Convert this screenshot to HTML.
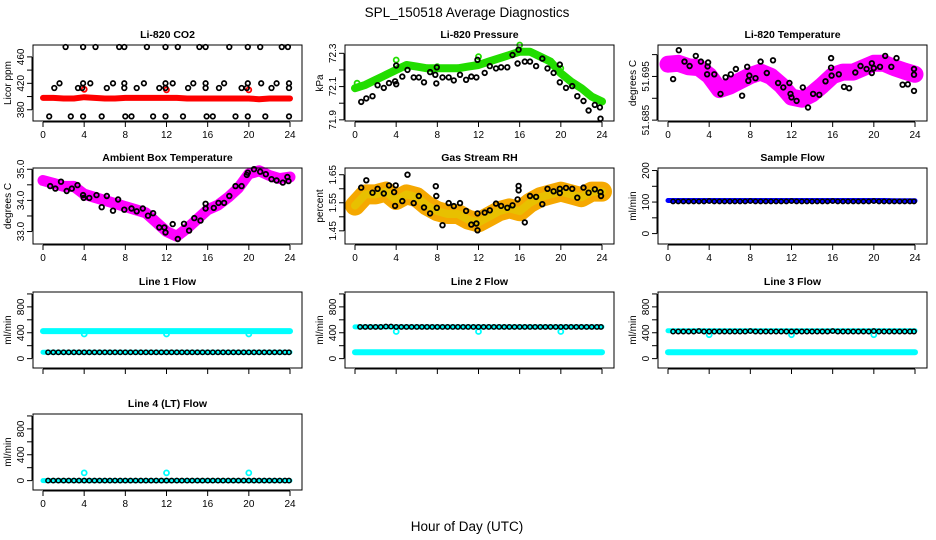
<!DOCTYPE html>
<html><head><meta charset="utf-8">
<style>
html,body{margin:0;padding:0;background:#fff;}
svg{display:block;font-family:"Liberation Sans",Arial,sans-serif;}
</style></head>
<body>
<svg id="chart" width="936" height="540" viewBox="0 0 936 540" xmlns="http://www.w3.org/2000/svg">
<rect width="936" height="540" fill="#fff"/>
<text x="467" y="17" font-size="13.5" text-anchor="middle">SPL_150518  Average Diagnostics</text>
<text x="467" y="531" font-size="13.5" text-anchor="middle">Hour of Day (UTC)</text>
</svg>
<script>
// ---------- data ----------
const hours = [0,1,2,3,4,5,6,7,8,9,10,11,12,13,14,15,16,17,18,19,20,21,22,23,24];
const xTicks = [0,4,8,12,16,20,24];
const halfHours = [0.5,1,1.5,2,2.5,3,3.5,4,4.5,5,5.5,6,6.5,7,7.5,8,8.5,9,9.5,10,10.5,11,11.5,12,12.5,13,13.5,14,14.5,15,15.5,16,16.5,17,17.5,18,18.5,19,19.5,20,20.5,21,21.5,22,22.5,23,23.5,23.9];

// CO2
const co2Band = [398,398,397,397,399,398,397,397,398,398,398,398,398,398,397,397,397,397,397,397,397,396,397,397,397];
const co2RedX = [4,12,20];
const co2RedY = [411,410,410];
const co2BlackX = [2.2,3.9,5.1,7.4,7.9,10.1,11.9,13.1,15.2,15.8,18.1,19.9,21.1,23.2,23.8, 1.1,3.4,3.8,6.2,7.9,9.1,11.3,11.9,14.1,15.8,17.1,19.3,19.8,22.2,23.9, 1.6,3.9,4.6,6.8,7.9,9.8,11.9,12.6,14.6,15.8,17.6,19.9,21.2,22.7,23.9, 0.6,2.7,3.9,5.7,8,8.6,10.7,11.9,13.6,15.9,16.5,18.7,19.9,21.6,23.9];
const co2BlackY = [475,475,475,475,475,475,475,475,475,475,475,475,475,475,475, 413,413,413,413,413,413,413,413,413,413,413,413,413,413,413, 420,420,420,420,420,420,420,420,420,420,420,420,420,420,420, 370,370,370,370,370,370,370,370,370,370,370,370,370,370,370];

// Pressure
const presBand = [72.09,72.11,72.14,72.17,72.2,72.23,72.22,72.21,72.21,72.21,72.21,72.22,72.23,72.25,72.27,72.29,72.31,72.31,72.28,72.25,72.18,72.13,72.09,72.04,72.01];
const presGreenX = [0.2,4,8,12,16,20];
const presGreenY = [72.12,72.26,72.22,72.28,72.35,72.21];
const presBlackX = [0.6,1.1,1.7,2.2,2.8,3.3,3.9,4,4,4.6,5.1,5.7,6.2,6.7,7.3,7.8,7.9,7.95,8.5,9.1,9.6,10.2,10.8,11.3,11.8,11.9,12.6,13.1,13.7,14.2,14.8,15.3,15.8,15.9,16.5,17,17.6,18.2,18.7,19.3,19.9,19.9,20.5,21.1,21.6,22.2,22.7,23.3,23.8,23.85];
const presBlackY = [72.008,72.029,72.042,72.108,72.092,72.121,72.132,72.114,72.227,72.16,72.2,72.155,72.155,72.126,72.187,72.171,72.119,72.216,72.155,72.155,72.137,72.171,72.141,72.16,72.155,72.261,72.182,72.223,72.209,72.216,72.216,72.29,72.239,72.322,72.25,72.25,72.223,72.268,72.209,72.182,72.232,72.126,72.092,72.103,72.042,72.013,71.956,71.99,71.975,71.907];

// Li-820 temperature
const tempBand = [51.6978,51.698,51.6972,51.697,51.6952,51.692,51.6928,51.694,51.6952,51.696,51.695,51.693,51.6903,51.6898,51.691,51.693,51.6952,51.696,51.696,51.697,51.698,51.698,51.697,51.6962,51.6955];
const tempBlackX = [0.5,1.05,1.6,2.1,2.7,3.2,3.8,3.9,3.85,4.5,5.1,5.6,6.1,6.6,7.2,7.7,7.8,7.9,8.5,9,9.6,10.2,10.7,11.2,11.8,11.9,12,12.5,13.1,13.6,14.1,14.7,15.3,15.85,15.85,15.9,16.6,17.1,17.6,18.2,18.7,19.3,19.8,19.8,20,20.6,21.1,21.7,22.2,22.8,23.3,23.9,23.9,23.9];
const tempBlackY = [51.6944,51.701,51.6984,51.6974,51.6997,51.6984,51.6955,51.6982,51.6973,51.6955,51.691,51.6948,51.6955,51.6967,51.6906,51.6972,51.694,51.6952,51.6946,51.6984,51.6958,51.6987,51.6935,51.6925,51.6935,51.691,51.6902,51.6894,51.6925,51.6879,51.691,51.6908,51.6939,51.6992,51.697,51.6952,51.6955,51.6926,51.6923,51.6959,51.6974,51.6967,51.698,51.6958,51.6969,51.6972,51.6997,51.6972,51.6992,51.6931,51.6932,51.6967,51.6917,51.6954];

// Ambient box temperature
const ambBand = [34.64,34.55,34.45,34.45,34.2,34.1,34.0,33.9,33.8,33.7,33.6,33.3,33.0,32.85,33.1,33.4,33.7,33.85,34.1,34.4,34.85,34.95,34.8,34.7,34.75];
const ambBlackX = [0.7,1.2,1.75,2.3,2.8,3.35,3.9,3.95,4.5,5.2,5.7,6.2,6.8,7.3,7.9,8.6,9.1,9.7,10.2,10.7,11.3,11.8,11.9,12.6,13.1,13.7,14.2,14.7,15.3,15.8,15.8,16.6,17.05,17.6,18.1,18.7,19.3,19.8,19.9,20.5,21.1,21.65,22.2,22.7,23.3,23.75,23.85];
const ambBlackY = [34.46,34.38,34.6,34.3,34.38,34.49,34.17,34.08,34.08,34.17,33.78,34.14,33.67,34.03,33.7,33.74,33.65,33.74,33.51,33.59,33.13,33.13,32.97,33.24,32.76,33.25,33.03,33.43,33.35,33.89,33.74,33.76,33.92,33.92,34.14,34.46,34.46,34.82,34.89,35.0,34.92,34.84,34.68,34.64,34.57,34.75,34.62];

// Gas stream RH
const rhBand = [1.54,1.58,1.58,1.59,1.56,1.58,1.57,1.54,1.52,1.51,1.51,1.49,1.48,1.50,1.52,1.53,1.52,1.55,1.57,1.58,1.59,1.58,1.57,1.59,1.59];
const rhBlackX = [0.6,1.1,1.7,2.2,2.8,3.3,3.8,3.95,3.9,4.6,5.1,5.7,6.2,6.7,7.3,7.85,7.9,7.95,8.5,9.1,9.6,10.2,10.8,11.3,11.8,11.9,11.9,12.6,13.1,13.7,14.2,14.8,15.3,15.8,15.9,15.9,16.5,17,17.6,18.2,18.7,19.3,19.9,19.9,20.5,21.1,21.6,22.2,22.7,23.3,23.85,23.9];
const rhBlackY = [1.604,1.63,1.586,1.6,1.583,1.612,1.588,1.612,1.539,1.556,1.65,1.549,1.574,1.533,1.512,1.609,1.574,1.532,1.47,1.549,1.538,1.549,1.521,1.472,1.476,1.512,1.452,1.515,1.523,1.547,1.539,1.532,1.541,1.562,1.61,1.594,1.48,1.574,1.571,1.545,1.6,1.591,1.6,1.585,1.603,1.6,1.568,1.604,1.586,1.598,1.588,1.574];

// Flows
const sampleBand = [105,105,105,105,105,105,105,105,105,105,105,105,105,105,105,105,105,105,105,105,105,105,104,104,104];
const sampleBlack = [102,102,102,102,102,102,102,103,102,102,102,102,102,102,102,103,102,102,102,102,102,102,102,103,102,102,102,102,102,102,102,103,102,102,102,102,102,102,102,103,102,102,102,102,102,102,102,102];

const l1Cyan = [425,425,425,425,425,425,425,425,425,425,425,425,425,425,425,425,425,425,425,425,425,425,425,425,425];
const l1CyanLow = [100,100,100,100,100,100,100,100,100,100,100,100,100,100,100,100,100,100,100,100,100,100,100,100,100];
const l1Black = [98,98,98,98,98,98,98,98,98,98,98,98,98,98,98,98,98,98,98,98,98,98,98,98,98,98,98,98,98,98,98,98,98,98,98,98,98,98,98,98,98,98,98,98,98,98,98,98];
const l1DipX = [4,12,20];
const l1DipY = [380,380,380];

const l2Cyan = [100,100,100,100,100,100,100,100,100,100,100,100,100,100,100,100,100,100,100,100,100,100,100,100,100];
const l2CyanHigh = [490,490,490,490,490,490,490,490,490,490,490,490,490,490,490,490,490,490,490,490,490,490,490,490,490];
const l2Black = [490,490,490,490,490,495,495,490,490,490,490,490,490,490,490,490,490,490,490,490,490,490,490,490,490,490,490,490,490,490,490,490,490,490,490,490,490,490,490,490,490,490,490,490,490,490,490,490];
const l2DipX = [4,12,20];
const l2DipY = [420,420,420];

const l3Cyan = [100,100,100,100,100,100,100,100,100,100,100,100,100,100,100,100,100,100,100,100,100,100,100,100,100];
const l3CyanHigh = [432,432,432,432,432,432,432,432,432,432,432,432,432,432,432,432,432,432,432,432,432,432,432,432,432];
const l3Black = [420,420,420,420,420,425,420,420,420,420,420,420,420,420,420,425,420,420,420,420,420,420,420,420,420,420,420,420,420,420,420,425,420,420,420,420,420,420,420,425,420,420,420,420,420,420,420,420];
const l3DipX = [4,12,20];
const l3DipY = [370,370,370];

const l4Cyan = [0,0,0,0,0,0,0,0,0,0,0,0,0,0,0,0,0,0,0,0,0,0,0,0,0];
const l4Black = [0,0,0,0,0,0,0,0,0,0,0,0,0,0,0,0,0,0,0,0,0,0,0,0,0,0,0,0,0,0,0,0,0,0,0,0,0,0,0,0,0,0,0,0,0,0,0,0];
const l4DipX = [4,12,20];
const l4DipY = [120,120,120];

// tick values and labels
const co2Ticks = [380,400,420,440,460];
const co2Labels = ["380","420","460"];
const presTicks = [71.9,72.0,72.1,72.2,72.3];
const presLabels = ["71.9","72.1","72.3"];
const tempTicks = [51.685,51.69,51.695,51.70];
const tempLabels = ["51.685","51.695"];
const ambTicks = [33.0,33.5,34.0,34.5,35.0];
const ambLabels = ["33.0","34.0","35.0"];
const rhTicks = [1.45,1.50,1.55,1.60,1.65];
const rhLabels = ["1.45","1.55","1.65"];
const sampleTicks = [0,50,100,150,200];
const sampleLabels = ["0","100","200"];
const flowTicks = [0,200,400,600,800,1000];
const flowLabels = ["0","400","800"];

// ---------- drawing ----------
const NS = "http://www.w3.org/2000/svg";
const svg = document.getElementById('chart');
const colX = [33,345,658];
const rowY = [45,168,292,414];
const BW = 269, BH = 76;

function mk(tag, attrs, parent){
  const e = document.createElementNS(NS, tag);
  for (const k in attrs) e.setAttribute(k, attrs[k]);
  (parent||svg).appendChild(e);
  return e;
}

function panel(name, col, row, title, ylab, ylim, ticks, labels, showXLabels){
  const g = mk('g', {});
  
  
  const L = colX[col], T = rowY[row];
  const sx = h => L + 10 + h * (247/24);
  const sy = v => T + BH - (v - ylim[0]) / (ylim[1] - ylim[0]) * BH;
  const plot = mk('g', {}, g);
  
  
  const box = mk('rect', {x:L, y:T, width:BW, height:BH, fill:'none', stroke:'#000', 'stroke-width':1}, g);
  
  
  const t = mk('text', {x:L+BW/2, y:T-7, 'font-size':10.5, 'font-weight':'bold', 'text-anchor':'middle'}, g);
  
  
  t.textContent = title;
  const yl = mk('text', {transform:`translate(${L-22},${T+BH/2}) rotate(-90)`, 'font-size':10, 'text-anchor':'middle'}, g);
  
  
  yl.textContent = ylab;
  const xa = mk('g', {}, g);
  
  
  mk('line', {x1:sx(0), x2:sx(24), y1:T+BH+1, y2:T+BH+1, stroke:'#000'}, xa);
  xTicks.forEach(h => {
    mk('line', {x1:sx(h), x2:sx(h), y1:T+BH+1, y2:T+BH+6, stroke:'#000'}, xa);
    if (showXLabels){
      const tl = mk('text', {x:sx(h), y:T+BH+17, 'font-size':10, 'text-anchor':'middle'}, xa);
      
      
      tl.textContent = String(h);
    }
  });
  const ya = mk('g', {}, g);
  
  
  mk('line', {x1:L-1, x2:L-1, y1:sy(ticks[0]), y2:sy(ticks[ticks.length-1]), stroke:'#000'}, ya);
  ticks.forEach(v => {
    mk('line', {x1:L-1, x2:L-6, y1:sy(v), y2:sy(v), stroke:'#000'}, ya);
  });
  labels.forEach(s => {
    const v = parseFloat(s);
    const tl = mk('text', {transform:`translate(${L-9},${sy(v)}) rotate(-90)`, 'font-size':10, 'text-anchor':'middle'}, ya);
    
    
    tl.textContent = s;
  });
  return {plot, sx, sy, name};
}

function band(P, xs, ys, color, w, label){
  const d = xs.map((h,i) => (i?'L':'M') + P.sx(h).toFixed(1) + ' ' + P.sy(ys[i]).toFixed(1)).join(' ');
  const p = mk('path', {d, fill:'none', stroke:color, 'stroke-width':w, 'stroke-linejoin':'round', 'stroke-linecap':'round'}, P.plot);
  
  
}
function points(P, xs, ys, color, r, sw, label){
  const g = mk('g', {}, P.plot);
  
  
  xs.forEach((h,i) => {
    const c = mk('circle', {cx:P.sx(h).toFixed(1), cy:P.sy(ys[i]).toFixed(1), r, fill:'none', stroke:color, 'stroke-width':sw}, g);
    
    
  });
}

let P = panel('co2', 0, 0, 'Li-820 CO2', 'Licor ppm', [363,478], co2Ticks, co2Labels, true);
band(P, hours, co2Band, '#ff0000', 6, 'co2-band');
points(P, co2RedX, co2RedY, '#ff0000', 2.5, 1.8, 'co2-red-points');
points(P, co2BlackX, co2BlackY, '#000', 2.3, 1.7, 'co2-averages');

P = panel('pressure', 1, 0, 'Li-820 Pressure', 'kPa', [71.893,72.35], presTicks, presLabels, true);
band(P, hours, presBand, '#22dd00', 8, 'pressure-band');
points(P, presGreenX, presGreenY, '#22dd00', 2.5, 1.8, 'pressure-green-points');
points(P, presBlackX, presBlackY, '#000', 2.3, 1.8, 'pressure-averages');

P = panel('li820-temp', 2, 0, 'Li-820 Temperature', 'degrees C', [51.6848,51.7022], tempTicks, tempLabels, true);
band(P, hours, tempBand, '#ff00ff', 17, 'temperature-band');
points(P, tempBlackX, tempBlackY, '#000', 2.3, 1.8, 'temperature-averages');

P = panel('ambient', 0, 1, 'Ambient Box Temperature', 'degrees C', [32.6,35.04], ambTicks, ambLabels, true);
band(P, hours, ambBand, '#ff00ff', 11, 'ambient-band');
points(P, ambBlackX, ambBlackY, '#000', 2.3, 1.8, 'ambient-averages');

P = panel('rh', 1, 1, 'Gas Stream RH', 'percent', [1.403,1.674], rhTicks, rhLabels, true);
band(P, hours, rhBand, '#f5a800', 20, 'rh-band');
band(P, hours, rhBand, '#e8c000', 8, 'rh-band-core');
points(P, rhBlackX, rhBlackY, '#000', 2.3, 1.8, 'rh-averages');

P = panel('sample-flow', 2, 1, 'Sample Flow', 'ml/min', [-33,208], sampleTicks, sampleLabels, true);
band(P, hours, sampleBand, '#0000ff', 5, 'sample-band');
points(P, halfHours, sampleBlack, '#000', 2.2, 1.5, 'sample-averages');

P = panel('line1-flow', 0, 2, 'Line 1 Flow', 'ml/min', [-145,1030], flowTicks, flowLabels, false);
band(P, hours, l1Cyan, '#00ffff', 6, 'line1-band');
band(P, hours, l1CyanLow, '#00ffff', 5, 'line1-low-band');
points(P, l1DipX, l1DipY, '#00ffff', 2.5, 1.8, 'line1-dips');
points(P, halfHours, l1Black, '#000', 2.2, 1.5, 'line1-averages');

P = panel('line2-flow', 1, 2, 'Line 2 Flow', 'ml/min', [-145,1030], flowTicks, flowLabels, false);
band(P, hours, l2Cyan, '#00ffff', 6, 'line2-band');
band(P, hours, l2CyanHigh, '#00ffff', 5, 'line2-high-band');
points(P, l2DipX, l2DipY, '#00ffff', 2.5, 1.8, 'line2-dips');
points(P, halfHours, l2Black, '#000', 2.2, 1.5, 'line2-averages');

P = panel('line3-flow', 2, 2, 'Line 3 Flow', 'ml/min', [-145,1030], flowTicks, flowLabels, false);
band(P, hours, l3Cyan, '#00ffff', 6, 'line3-band');
band(P, hours, l3CyanHigh, '#00ffff', 5, 'line3-high-band');
points(P, l3DipX, l3DipY, '#00ffff', 2.5, 1.8, 'line3-dips');
points(P, halfHours, l3Black, '#000', 2.2, 1.5, 'line3-averages');

P = panel('line4-flow', 0, 3, 'Line 4 (LT) Flow', 'ml/min', [-145,1030], flowTicks, flowLabels, true);
band(P, hours, l4Cyan, '#00ffff', 5, 'line4-band');
points(P, l4DipX, l4DipY, '#00ffff', 2.5, 1.8, 'line4-dips');
points(P, halfHours, l4Black, '#000', 2.2, 1.5, 'line4-averages');
</script>
</body></html>
